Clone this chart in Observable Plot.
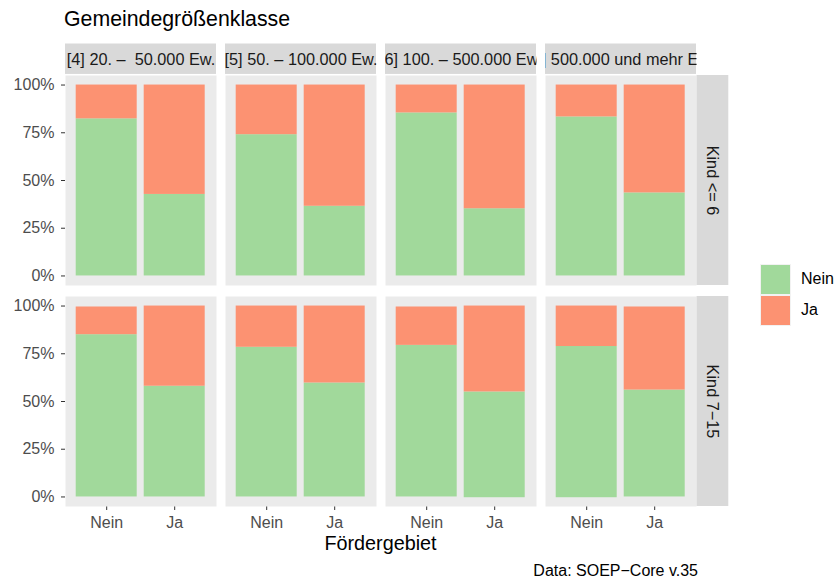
<!DOCTYPE html>
<html><head><meta charset="utf-8">
<script src="https://cdn.jsdelivr.net/npm/d3@7"></script>
<script src="https://cdn.jsdelivr.net/npm/@observablehq/plot@0.6"></script>
<style>
body{margin:0;background:#fff;font-family:"Liberation Sans",Arial,Helvetica,sans-serif;}
#wrap{position:relative;width:837px;height:579px;overflow:hidden;}
#wrap svg{position:absolute;left:0;top:0;}
.t{position:absolute;white-space:nowrap;line-height:1;}
.key{position:absolute;width:31px;height:31px;background:#f2f2f2;}
.key div{position:absolute;left:1px;top:1px;width:29px;height:29px;}
</style></head><body><div id="wrap"></div>
<script>
// ---- data ----
const columns = ["[4] 20. –  50.000 Ew.", "[5] 50. – 100.000 Ew.", "[6] 100. – 500.000 Ew.", "[7] 500.000 und mehr Ew."];
const rows = ["Kind <= 6", "Kind 7−15"];
const foerder = ["Nein", "Ja"];           // x categories (Fördergebiet)
const responses = ["Nein", "Ja"];         // fill categories
const colors = ["#a1d99b", "#fc9272"];
// share of "Nein" per column, ordered [col1 Nein, col1 Ja, col2 Nein, col2 Ja, ...]
const neinRow1 = [0.823, 0.427, 0.740, 0.365, 0.854, 0.352, 0.833, 0.435];
const neinRow2 = [0.850, 0.580, 0.784, 0.597, 0.794, 0.550, 0.788, 0.560];
// bar bottoms / tops (slight jitter visible in the picture)
const bottomRow1 = [0, 0, 0, 0, 0, 0, 0, 0];
const topRow1    = [1, 1, 1, 1, 1, 1, 1, 1];
const bottomRow2 = [0, 0, 0, 0, 0, -0.004, -0.004, 0];
const topRow2    = [0.995, 1, 1, 1, 0.995, 1, 1, 0.995];
const title = "Gemeindegrößenklasse";
const xTitle = "Fördergebiet";
const caption = "Data: SOEP−Core v.35";
const yTicks = [0, 0.25, 0.5, 0.75, 1];

// ---- build table ----
const shares = [neinRow1, neinRow2], bottoms = [bottomRow1, bottomRow2], tops = [topRow1, topRow2];
const bars = [];
rows.forEach((row, r) => columns.forEach((col, c) => foerder.forEach((f, k) => {
  const i = c * 2 + k;
  bars.push({row, col, f, resp: responses[0], y1: bottoms[r][i], y2: shares[r][i]});
  bars.push({row, col, f, resp: responses[1], y1: shares[r][i], y2: tops[r][i]});
})));
const stripTop = columns.map(col => ({row: rows[0], col}));
const stripRight = rows.map(row => ({row, col: columns[columns.length - 1]}));

// ---- layout ----
const W = 837, H = 579;
const ML = 63.3, MR = W - 697.7, MT = 74, MB = H - 506.7;
const fxPad = 0.0584, fyPad = 0.0477;
const panelW = (W - ML - MR) / (columns.length - fxPad) * (1 - fxPad);
const panelH = (H - MT - MB) / (rows.length - fyPad) * (1 - fyPad);
const stripH = 31.5, stripW = 32.3;

const plot = Plot.plot({
  width: W, height: H,
  marginLeft: ML, marginRight: MR, marginTop: MT, marginBottom: MB,
  style: {fontFamily: '"Liberation Sans", Arial, sans-serif', fontSize: "16px", color: "#4d4d4d", background: "transparent"},
  fx: {domain: columns, paddingInner: fxPad, paddingOuter: 0, axis: null, label: null},
  fy: {domain: rows, paddingInner: fyPad, paddingOuter: 0, axis: null, label: null},
  x: {domain: foerder, paddingInner: 0.1, paddingOuter: 0.15, label: null, tickSize: 4, tickPadding: 6},
  y: {domain: [-0.05, 1.05], ticks: yTicks, tickFormat: d => Math.round(d * 100) + "%", label: null, tickSize: 4, tickPadding: 7},
  color: {domain: responses, range: colors},
  marks: [
    Plot.frame({fill: "#ebebeb", stroke: "none"}),
    Plot.rect(stripTop, {fx: "col", fy: "row", fill: "#d9d9d9", insetTop: -stripH, insetBottom: panelH}),
    Plot.text(stripTop, {fx: "col", fy: "row", text: "col", frameAnchor: "top", lineAnchor: "middle", textAnchor: "middle", dy: -stripH / 2, fill: "#1a1a1a", fontSize: 16.3}),
    Plot.rect(stripRight, {fx: "col", fy: "row", fill: "#d9d9d9", insetLeft: panelW, insetRight: -stripW}),
    Plot.text(stripRight, {fx: "col", fy: "row", text: "row", frameAnchor: "right", lineAnchor: "middle", textAnchor: "middle", dx: stripW / 2, rotate: 90, fill: "#1a1a1a", fontSize: 16.3}),
    Plot.barY(bars, {fx: "col", fy: "row", x: "f", y1: "y1", y2: "y2", fill: "resp"})
  ]
});

const wrap = document.getElementById("wrap");
wrap.appendChild(plot);

// clip top strip texts to their strip boxes
const ns = "http://www.w3.org/2000/svg";
const fxScale = plot.scale("fx");
let ci = 0;
const svgM = plot.getScreenCTM();
Array.from(plot.querySelectorAll("text")).forEach(t => {
  const c = columns.indexOf(t.textContent);
  if (c < 0) return;
  const parent = t.parentNode;
  const g = document.createElementNS(ns, "g");
  parent.insertBefore(g, t);
  g.appendChild(t);
  const m = g.getScreenCTM();
  const offX = m.e - svgM.e, offY = m.f - svgM.f;
  const x0 = fxScale.apply(columns[c]);
  const cp = document.createElementNS(ns, "clipPath");
  cp.setAttribute("id", "sclip" + (++ci));
  const r = document.createElementNS(ns, "rect");
  r.setAttribute("x", x0 - offX);
  r.setAttribute("y", MT - stripH - offY);
  r.setAttribute("width", panelW);
  r.setAttribute("height", stripH);
  cp.appendChild(r);
  g.appendChild(cp);
  g.setAttribute("clip-path", `url(#sclip${ci})`);
});
// darker tick marks like ggplot
plot.querySelectorAll('g[aria-label="x-axis tick"] path, g[aria-label="y-axis tick"] path, g[aria-label="x-axis"] line, g[aria-label="y-axis"] line')
  .forEach(p => p.setAttribute("stroke", "#333"));

// ---- html text: title, axis title, caption, legend ----
function addText(txt, x, baseline, size, anchor, color) {
  const d = document.createElement("div");
  d.className = "t";
  d.textContent = txt;
  d.style.fontSize = size + "px";
  d.style.color = color;
  d.style.top = (baseline - 0.8465 * size) + "px";
  if (anchor === "middle") { d.style.left = x + "px"; d.style.transform = "translateX(-50%)"; }
  else if (anchor === "end") { d.style.right = (W - x) + "px"; }
  else d.style.left = x + "px";
  wrap.appendChild(d);
}
addText(title, 64, 27, 21.3, "start", "#000");
addText(xTitle, (ML + W - MR) / 2, 551, 19.8, "middle", "#000");
addText(caption, 698, 577, 16, "end", "#000");
const keyTops = [264, 295];
responses.forEach((resp, i) => {
  const k = document.createElement("div");
  k.className = "key";
  k.style.left = "760px";
  k.style.top = keyTops[i] + "px";
  const inner = document.createElement("div");
  inner.style.background = plot.scale("color").apply(resp);
  k.appendChild(inner);
  wrap.appendChild(k);
  addText(resp, 801, keyTops[i] + 20.5, 16, "start", "#000");
});
</script></body></html>
